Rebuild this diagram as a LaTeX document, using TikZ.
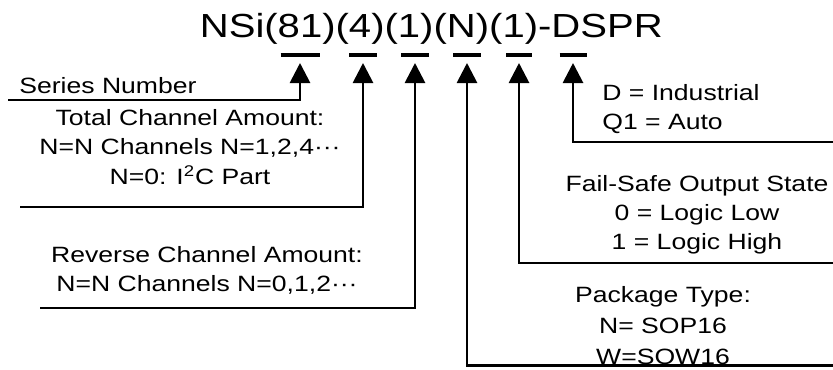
\documentclass[tikz,border=0pt]{standalone}
\usepackage{fontspec}
\setmainfont{Liberation Sans}[FakeStretch=1.2]
\usepackage{tikz}
\usetikzlibrary{arrows.meta,positioning,calc}

\tikzset{
  lead/.style={line width=1.6pt,-{Triangle[length=0.4cm,width=0.4cm]}},
  fieldbar/.style={line width=2.3pt},
  desc/.style={font=\fontsize{12.6}{16.6}\selectfont,align=center,inner sep=0pt},
}

\begin{document}
\begin{tikzpicture}
\useasboundingbox (0,0) rectangle (16.66,7.38);
% part number
\node[anchor=base west,inner sep=0pt,font=\fontsize{19}{23}\selectfont] (pn) at (3.99,6.64) {NSi(81)(4)(1)(N)(1)-DSPR};

% bars under each field, arrow tips below them
\foreach \name/\x/\w in {ser/6.00/0.39, tot/7.26/0.28, rev/8.30/0.28, pkg/9.34/0.28, fs/10.38/0.26, grd/11.46/0.27} {
  \draw[fieldbar] (\x-\w,6.28) -- (\x+\w,6.28);
  \coordinate (\name) at (\x,6.12);
}

% free ends of the leads
\coordinate (serL) at (0.16,5.38);
\coordinate (totL) at (0.40,3.24);
\coordinate (revL) at (0.80,1.22);
\coordinate (grdR) at (16.66,4.54);
\coordinate (fsR) at (16.66,2.12);
\coordinate (pkgR) at (16.66,0.07);

% descriptions
\node[desc,anchor=base west] (sertxt) at (0.38,5.52) {Series Number};
\node[desc] (tottxt) at (3.80,4.44) {Total Channel Amount:\\N=N Channels N=1,2,4···\\N=0: I\textsuperscript{2}C Part};
\node[desc] (revtxt) at (4.14,1.98) {Reverse Channel Amount:\\N=N Channels N=0,1,2···};
\node[desc,align=left,anchor=west] (grdtxt) at (12.04,5.20) {D = Industrial\\Q1 = Auto};
\node[desc] (fstxt) at (13.94,3.08) {Fail-Safe Output State\\0 = Logic Low\\1 = Logic High};
\node[desc,font=\fontsize{12.6}{17.6}\selectfont] (pkgtxt) at (13.26,0.86) {Package Type:\\N= SOP16\\W=SOW16};

% leads
\draw[lead] (serL) -| (ser);
\draw[lead] (totL) -| (tot);
\draw[lead] (revL) -| (rev);
\draw[lead] (pkgR) -| (pkg);
\draw[lead] (fsR) -| (fs);
\draw[lead] (grdR) -| (grd);
\end{tikzpicture}
\end{document}
